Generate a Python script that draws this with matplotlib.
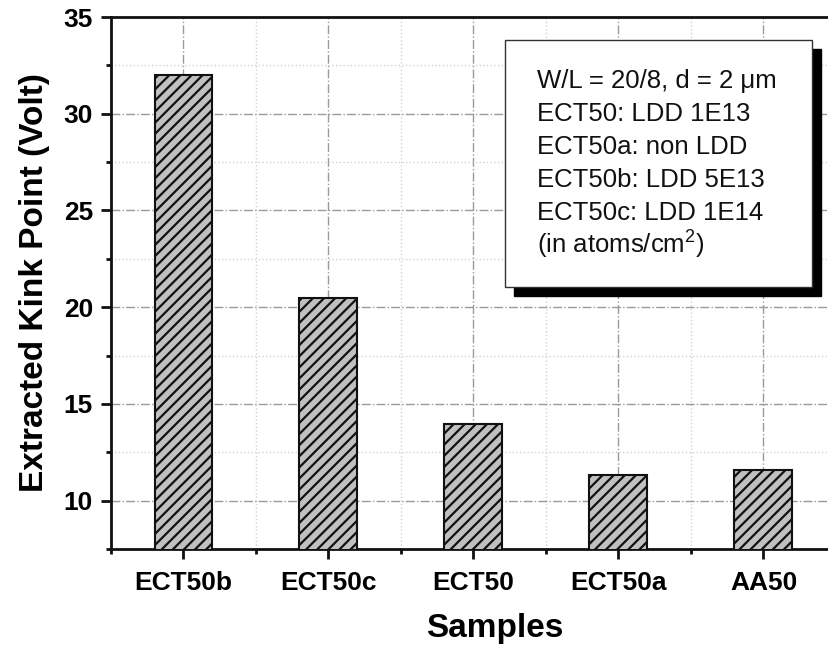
import matplotlib
matplotlib.use("Agg")
import matplotlib.pyplot as plt
from matplotlib.patches import Rectangle
from matplotlib.ticker import MultipleLocator, FixedLocator
from matplotlib.transforms import offset_copy

# kink point per sample
samples = ["ECT50b", "ECT50c", "ECT50", "ECT50a", "AA50"]
kink_volt = [32.0, 20.5, 13.95, 11.3, 11.6]

notes = [
    "W/L = 20/8, d = 2 \u03bcm",
    "ECT50: LDD 1E13",
    "ECT50a: non LDD",
    "ECT50b: LDD 5E13",
    "ECT50c: LDD 1E14",
    "(in atoms/cm$^2$)",
]

plt.rcParams["font.family"] = ["Liberation Sans", "DejaVu Sans"]
plt.rcParams["mathtext.fontset"] = "custom"
plt.rcParams["mathtext.rm"] = "Liberation Sans"
plt.rcParams["hatch.color"] = "#1a1a1a"
plt.rcParams["hatch.linewidth"] = 1.6

W, H = 829, 650
fig = plt.figure(figsize=(W / 100, H / 100), dpi=100)
# axes runs a bit past the right edge of the canvas
ax = fig.add_axes([111 / W, (H - 549) / H, (836 - 111) / W, (549 - 17) / H])

x = list(range(1, len(samples) + 1))
ax.bar(x, kink_volt, width=0.4, bottom=0, color="#c0c0c0", edgecolor="#111111",
       linewidth=1.5, hatch="///", zorder=3)

ax.set_xlim(0.5, 5.5)
ax.set_ylim(7.5, 35)
ax.set_xticks(x)
ax.set_xticklabels(samples, fontsize=19, fontweight="bold")
ax.xaxis.set_minor_locator(FixedLocator([0.5, 1.5, 2.5, 3.5, 4.5, 5.5]))
ax.yaxis.set_major_locator(MultipleLocator(5))
ax.yaxis.set_minor_locator(MultipleLocator(2.5))
for lab in ax.get_yticklabels():
    lab.set_fontsize(19)
    lab.set_fontweight("bold")

ax.tick_params(which="major", direction="out", length=7, width=2, color="#111111")
ax.tick_params(which="minor", direction="out", length=3.5, width=2, color="#111111")
ax.tick_params(axis="y", pad=6)
ax.tick_params(axis="x", pad=9)

for side in ["left", "bottom", "top", "right"]:
    ax.spines[side].set_linewidth(2)
    ax.spines[side].set_color("#111111")

ax.set_axisbelow(True)
ax.grid(which="major", linestyle="-.", color="#9a9a9a", linewidth=1.0, zorder=0)
ax.grid(which="minor", linestyle=":", color="#d2d2d2", linewidth=1.0, zorder=0)

ax.set_xlabel("Samples", fontsize=24, fontweight="bold")
ax.set_ylabel("Extracted Kink Point (Volt)", fontsize=24, fontweight="bold")
ax.xaxis.label.set_va("baseline")
ax.xaxis.set_label_coords(0.529, -(637 - 549) / 532)
ax.yaxis.label.set_va("center")
ax.yaxis.set_label_coords((35 - 111) / 725, 0.5)

# note box with a black drop shadow
bx0, bx1 = (505 - 111) / 725, (812 - 111) / 725
by1, by0 = 1 - (40 - 17) / 532, 1 - (287 - 17) / 532
shadow_tf = offset_copy(ax.transAxes, fig=fig, x=9, y=-9, units="dots")
ax.add_patch(Rectangle((bx0, by0), bx1 - bx0, by1 - by0, transform=shadow_tf,
                       facecolor="black", edgecolor="black", zorder=5, clip_on=False))
ax.add_patch(Rectangle((bx0, by0), bx1 - bx0, by1 - by0, transform=ax.transAxes,
                       facecolor="white", edgecolor="#333333", linewidth=1.0,
                       zorder=6, clip_on=False))
for i, line in enumerate(notes):
    py = 88 + 33 * i
    ax.text((537 - 111) / 725, 1 - (py - 17) / 532, line, transform=ax.transAxes,
            fontsize=18.5, va="baseline", ha="left", color="#111111", zorder=7)

fig.savefig("out.png", dpi=100)
